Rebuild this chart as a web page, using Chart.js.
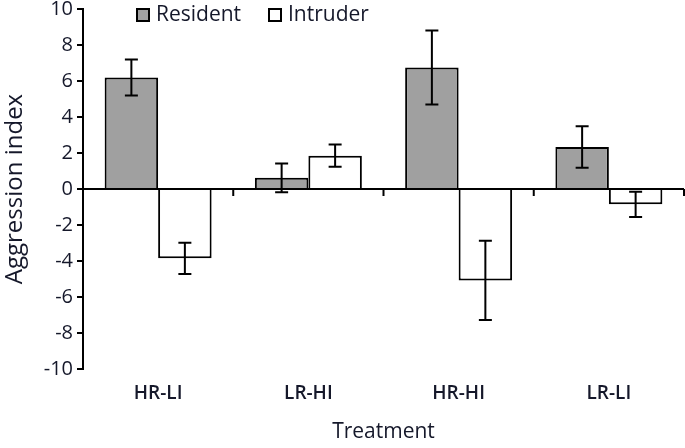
<!DOCTYPE html>
<html>
<head>
<meta charset="utf-8">
<script src="https://cdn.jsdelivr.net/npm/chart.js@4"></script>
<style>
  html, body { margin: 0; padding: 0; background: #fff; }
  #wrap { width: 685px; height: 448px; position: relative; }
</style>
</head>
<body>
<div id="wrap"><canvas id="c"></canvas></div>
<script>
const categories = ['HR-LI', 'LR-HI', 'HR-HI', 'LR-LI'];
const seriesNames = ['Resident', 'Intruder'];
const resident = [6.2, 0.62, 6.75, 2.33];
const residentErr = [1.0, 0.8, 2.05, 1.15];
const intruder = [-3.85, 1.85, -5.08, -0.85];
const intruderErr = [0.87, 0.62, 2.2, 0.7];
const yTicks = [-10, -8, -6, -4, -2, 0, 2, 4, 6, 8, 10];

const TEXT = '#15182a';
const FONT = "'Open Sans', sans-serif";

const errorBars = {
  id: 'errorBars',
  afterDatasetsDraw(chart) {
    const ctx = chart.ctx;
    const y = chart.scales.y;
    const errs = [residentErr, intruderErr];
    ctx.save();
    ctx.strokeStyle = '#000';
    ctx.lineWidth = 2;
    chart.data.datasets.forEach((ds, di) => {
      const meta = chart.getDatasetMeta(di);
      meta.data.forEach((el, i) => {
        const v = ds.data[i], e = errs[di][i];
        const yt = y.getPixelForValue(v + e), yb = y.getPixelForValue(v - e);
        const x = el.x, cap = 6.5;
        ctx.beginPath();
        ctx.moveTo(x, yt); ctx.lineTo(x, yb);
        ctx.moveTo(x - cap, yt); ctx.lineTo(x + cap, yt);
        ctx.moveTo(x - cap, yb); ctx.lineTo(x + cap, yb);
        ctx.stroke();
      });
    });
    // zero line and category boundary ticks
    const xs = chart.scales.x;
    const y0 = y.getPixelForValue(0);
    ctx.beginPath();
    ctx.moveTo(xs.left, y0); ctx.lineTo(xs.right, y0);
    const n = categories.length;
    for (let i = 1; i <= n; i++) {
      const bx = xs.left + (xs.right - xs.left) * i / n;
      ctx.moveTo(bx, y0); ctx.lineTo(bx, y0 + 7);
    }
    ctx.stroke();
    ctx.restore();
  }
};

const customLegend = {
  id: 'customLegend',
  afterDraw(chart) {
    const ctx = chart.ctx;
    ctx.save();
    const items = [
      { box: 137, text: 156, fill: '#a0a0a0', label: seriesNames[0] },
      { box: 269, text: 288, fill: '#ffffff', label: seriesNames[1] }
    ];
    ctx.font = "21px " + FONT;
    ctx.textBaseline = 'middle';
    items.forEach(it => {
      ctx.fillStyle = it.fill;
      ctx.fillRect(it.box, 9, 12, 12);
      ctx.strokeStyle = '#000';
      ctx.lineWidth = 2;
      ctx.strokeRect(it.box, 9, 12, 12);
      ctx.fillStyle = TEXT;
      ctx.fillText(it.label, it.text, 15);
    });
    ctx.restore();
  }
};

new Chart(document.getElementById('c'), {
  type: 'bar',
  data: {
    labels: categories,
    datasets: [
      { label: seriesNames[0], data: resident, backgroundColor: '#a0a0a0', borderColor: '#000', borderWidth: 2,
        categoryPercentage: 0.712, barPercentage: 1.0 },
      { label: seriesNames[1], data: intruder, backgroundColor: '#ffffff', borderColor: '#000', borderWidth: 2,
        categoryPercentage: 0.712, barPercentage: 1.0 }
    ]
  },
  options: {
    responsive: true,
    maintainAspectRatio: false,
    animation: false,
    layout: { padding: { top: 7, right: 1, left: 0, bottom: 0 } },
    plugins: { legend: { display: false }, tooltip: { enabled: false } },
    scales: {
      x: {
        grid: { display: false, drawTicks: false },
        border: { display: false },
        ticks: { color: TEXT, font: { family: FONT, size: 19, weight: '600' }, padding: 13 },
        title: { display: true, text: 'Treatment', color: TEXT, font: { family: FONT, size: 21 }, padding: { top: 0, bottom: 3 } },
        afterFit(s) { s.height = 79; }
      },
      y: {
        min: -10, max: 10,
        afterBuildTicks(s) { s.ticks = yTicks.map(v => ({ value: v })); },
        grid: { color: 'rgba(0,0,0,0)', tickColor: '#000', tickLength: 6, lineWidth: 2, drawOnChartArea: false },
        border: { display: true, color: '#000', width: 2 },
        ticks: { color: TEXT, font: { family: FONT, size: 20, lineHeight: 0.5 }, padding: 4 },
        title: { display: true, text: 'Aggression index', color: TEXT, font: { family: FONT, size: 24 }, padding: { top: 1, bottom: 0 } },
        afterFit(s) { s.width = 83; }
      }
    }
  },
  plugins: [errorBars, customLegend]
});
</script>
</body>
</html>
